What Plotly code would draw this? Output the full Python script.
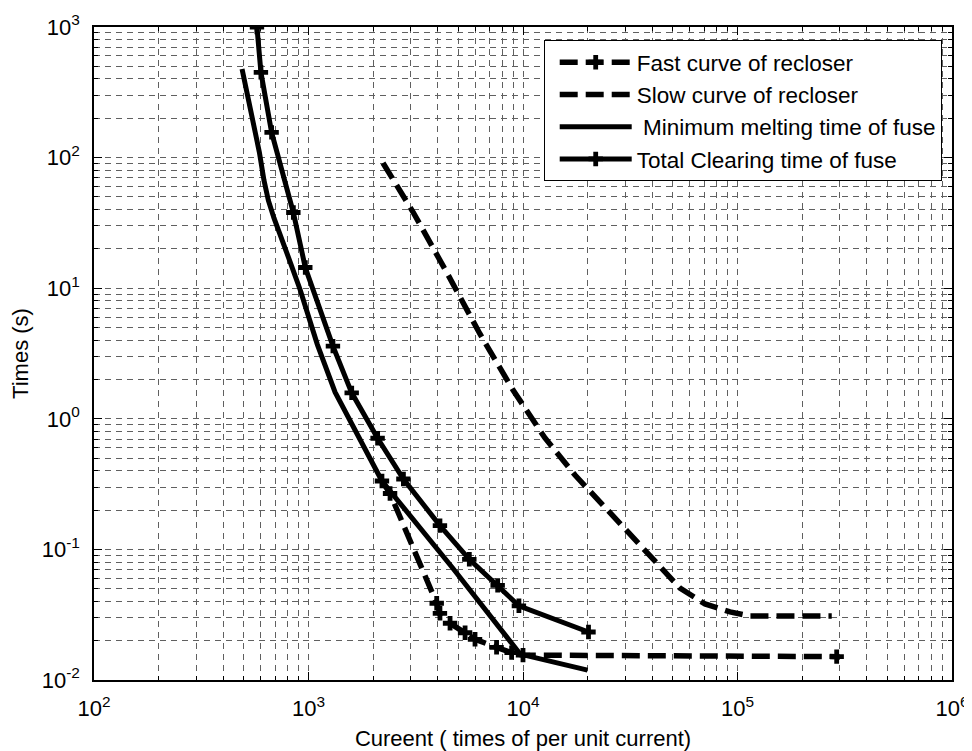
import plotly.graph_objects as go

# ---- data ----
fast_x = [2200, 2400, 3960, 4100, 4570, 5370, 5975, 7530, 8850, 10000, 290000]
fast_y = [0.334, 0.268, 0.0387, 0.0324, 0.0272, 0.023, 0.0205, 0.0178, 0.0162, 0.0155, 0.0151]

slow_x = [2225, 3071, 4423, 6302, 8983, 12660, 17470, 25440, 37050, 53940, 70560, 92250, 114400, 275000]
slow_y = [90.9, 38.3, 13.1, 4.46, 1.66, 0.713, 0.371, 0.193, 0.099, 0.0506, 0.0382, 0.0332, 0.0309, 0.0309]

mm_x = [490, 540, 590, 620, 650, 690, 735, 820, 915, 995, 1100, 1330, 1700, 2200, 4700, 9700, 20000]
mm_y = [477, 223, 110, 67, 47, 34.5, 26.5, 16, 9.7, 6.1, 3.7, 1.6, 0.73, 0.334, 0.072, 0.0158, 0.0119]

tc_x = [575, 600, 673, 850, 966, 1300, 1590, 2100, 2770, 4100, 5620, 7620, 9570, 20200]
tc_y = [1000, 450, 156, 38, 14.4, 3.6, 1.58, 0.71, 0.346, 0.152, 0.084, 0.053, 0.037, 0.0233]

x_tickvals = [1e2, 1e3, 1e4, 1e5, 1e6]
x_ticktext = ["10<sup>2</sup>", "10<sup>3</sup>", "10<sup>4</sup>", "10<sup>5</sup>", "10<sup>6</sup>"]
y_tickvals = [1e-2, 1e-1, 1e0, 1e1, 1e2, 1e3]
y_ticktext = ["10<sup>-2</sup>", "10<sup>-1</sup>", "10<sup>0</sup>", "10<sup>1</sup>", "10<sup>2</sup>", "10<sup>3</sup>"]

names = ["Fast curve of recloser", "Slow curve of recloser",
         " Minimum melting time of fuse", "Total Clearing time of fuse"]

FONT = "Liberation Sans, Arial, sans-serif"
FS = 22

def minor_vals(lo, hi):
    vals = []
    for d in range(lo, hi):
        for k in range(2, 10):
            vals.append(k * 10 ** d)
    return vals

fig = go.Figure()
fig.add_trace(go.Scatter(x=fast_x, y=fast_y, name=names[0], mode="lines+markers",
                         line=dict(color="black", width=5.5, dash="18px,8px"),
                         marker=dict(symbol="cross", size=12, color="black")))
fig.add_trace(go.Scatter(x=slow_x, y=slow_y, name=names[1], mode="lines",
                         line=dict(color="black", width=5.5, dash="18px,8px")))
fig.add_trace(go.Scatter(x=mm_x, y=mm_y, name=names[2], mode="lines",
                         line=dict(color="black", width=5)))
fig.add_trace(go.Scatter(x=tc_x, y=tc_y, name=names[3], mode="lines+markers",
                         line=dict(color="black", width=5),
                         marker=dict(symbol="cross", size=12, color="black")))

grid = dict(gridcolor="#606060", gridwidth=1, griddash="6px,5px")
axis_common = dict(type="log", showline=True, linecolor="black", linewidth=1.5,
                   mirror="allticks", ticks="inside", ticklen=8, tickcolor="black",
                   tickfont=dict(family=FONT, size=FS, color="black"),
                   showgrid=True, zeroline=False, automargin=False, **grid)

fig.update_xaxes(range=[2, 6], tickmode="array", tickvals=x_tickvals, ticktext=x_ticktext,
                 ticklabelstandoff=8,
                 title=dict(text="Cureent ( times of per unit current)",
                            font=dict(family=FONT, size=FS, color="black"), standoff=10),
                 minor=dict(tickmode="array", tickvals=minor_vals(2, 6), ticks="inside",
                            ticklen=4, tickcolor="black", showgrid=True, **grid),
                 **axis_common)
fig.update_yaxes(range=[-2, 3], tickmode="array", tickvals=y_tickvals, ticktext=y_ticktext,
                 ticklabelstandoff=8,
                 title=dict(text="Times (s)", font=dict(family=FONT, size=FS, color="black"),
                            standoff=8),
                 minor=dict(tickmode="array", tickvals=minor_vals(-2, 3), ticks="inside",
                            ticklen=4, tickcolor="black", showgrid=True, **grid),
                 **axis_common)

# page body has an 8px margin, so the figure is sized to fit the 972x751 window
fig.update_layout(
    width=964, height=743,
    margin=dict(l=86, r=20, t=19, b=71),
    paper_bgcolor="white", plot_bgcolor="white",
    font=dict(family=FONT, size=FS, color="black"),
    legend=dict(x=0.988, y=0.98, xanchor="right", yanchor="top",
                bgcolor="white", bordercolor="black", borderwidth=1,
                font=dict(family=FONT, size=22.5, color="black"),
                itemwidth=72, indentation=10),
    showlegend=True,
)

fig.write_html("out.html")
